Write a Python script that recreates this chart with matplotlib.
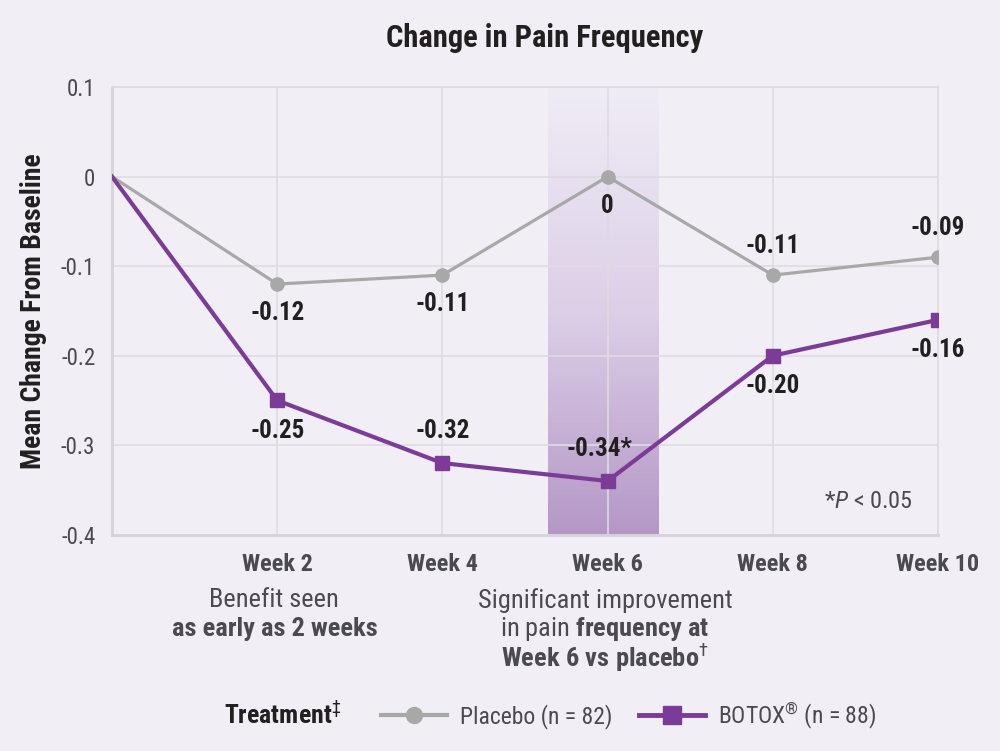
import matplotlib
matplotlib.use("Agg")
import matplotlib.pyplot as plt
import numpy as np
from matplotlib import font_manager as fm
from matplotlib.colors import LinearSegmentedColormap
from matplotlib.lines import Line2D

# data
weeks = [0, 2, 4, 6, 8, 10]
placebo = [0, -0.12, -0.11, 0, -0.11, -0.09]
botox = [0, -0.25, -0.32, -0.34, -0.20, -0.16]
placebo_labels = ["", "-0.12", "-0.11", "0", "-0.11", "-0.09"]
botox_labels = ["", "-0.25", "-0.32", "-0.34*", "-0.20", "-0.16"]
placebo_side = [0, -1, -1, -1, 1, 1]   # 1 = above, -1 = below
botox_side = [0, -1, 1, 1, -1, -1]
yticks = [0.1, 0, -0.1, -0.2, -0.3, -0.4]
ytick_labels = ["0.1", "0", "-0.1", "-0.2", "-0.3", "-0.4"]
xticks = [2, 4, 6, 8, 10]
xtick_labels = ["Week 2", "Week 4", "Week 6", "Week 8", "Week 10"]

# pick a narrow font if one is around
names = {f.name for f in fm.fontManager.ttflist}
font = "DejaVu Sans"
for cand in ["Roboto Condensed", "Liberation Sans Narrow", "Arial Narrow",
             "Open Sans Condensed", "Noto Sans Condensed", "Roboto", "Liberation Sans"]:
    if cand in names:
        font = cand
        break

plt.rcParams['font.family'] = [font, 'DejaVu Sans']
plt.rcParams['axes.unicode_minus'] = False
plt.rcParams['mathtext.fontset'] = 'custom'
plt.rcParams['mathtext.rm'] = font
plt.rcParams['mathtext.it'] = font + ':italic'
plt.rcParams['mathtext.bf'] = font + ':bold'

bg = "#F1EEF6"
grey = "#A8A8A8"
purple = "#7B3C98"
dark = "#231F20"
txt = "#4A4A4F"

fig = plt.figure(figsize=(10, 7.51), dpi=100, facecolor=bg)
ax = fig.add_axes([0.112, 0.288, 0.826, 0.596], facecolor=bg)

# shaded week-6 band with vertical gradient (light at top)
cmap = LinearSegmentedColormap.from_list("band", ["#F0ECF6", "#DCCFE7", "#B497C6"])
grad = np.linspace(0, 1, 256).reshape(-1, 1)
ax.imshow(grad, cmap=cmap, aspect='auto', extent=[5.28, 6.62, -0.4, 0.1],
          zorder=0.5, vmin=0, vmax=1)

ax.plot(weeks, placebo, color=grey, lw=2.3, zorder=3)
ax.plot(weeks[1:], placebo[1:], 'o', color=grey, ms=9.5, zorder=4)
ax.plot(weeks, botox, color=purple, lw=3.0, zorder=3)
ax.plot(weeks[1:], botox[1:], 's', color=purple, ms=9.5, zorder=4)

for x, y, lab, s in zip(weeks, placebo, placebo_labels, placebo_side):
    if lab:
        ax.annotate(lab, (x, y), xytext=(0, 21 * s), textcoords='offset points',
                    ha='center', va='center', fontsize=18, fontweight='bold', color=dark)
for x, y, lab, s in zip(weeks, botox, botox_labels, botox_side):
    if lab:
        off = 23 if s > 0 else 22
        dx = -6 if lab.endswith("*") else 0  # asterisk hangs to the right
        ax.annotate(lab, (x, y), xytext=(dx, off * s), textcoords='offset points',
                    ha='center', va='center', fontsize=18, fontweight='bold', color=dark)

ax.set_xlim(0, 10)
ax.set_ylim(-0.4, 0.1)
ax.set_xticks(xticks)
ax.set_xticklabels(xtick_labels, fontsize=17.5, fontweight='bold', color=txt)
ax.set_yticks(yticks)
ax.set_yticklabels(ytick_labels, fontsize=16.5, color=txt)
ax.tick_params(length=0, pad=12)
ax.tick_params(axis='x', pad=13)
ax.grid(True, color="#DEDBE2", lw=1.2, zorder=0)
ax.set_axisbelow(True)
for side in ['left', 'bottom']:
    ax.spines[side].set_color("#D6D3DA")
    ax.spines[side].set_linewidth(2)
for side in ['top', 'right']:
    ax.spines[side].set_color("#DEDBE2")
    ax.spines[side].set_linewidth(1.2)

fig.text(0.034, 0.585, "Mean Change From Baseline", rotation=90, ha='center',
         va='center', fontsize=20, fontweight='bold', color=dark)
fig.text(0.545, 0.949, "Change in Pain Frequency", ha='center', va='center',
         fontsize=22, fontweight='bold', color=dark)

ax.text(9.7, -0.363, r"*$\mathit{P}$ < 0.05", ha='right', va='center',
        fontsize=17.5, color=txt)

# notes under the axis
fig.text(0.274, 0.201, "Benefit seen", ha='center', va='center', fontsize=19, color=txt)
fig.text(0.275, 0.163, "as early as 2 weeks", ha='center', va='center',
         fontsize=19, fontweight='bold', color=txt)
fig.text(0.605, 0.201, "Significant improvement", ha='center', va='center',
         fontsize=19, color=txt)
fig.text(0.605, 0.163, r"in pain $\mathbf{frequency\ at}$", ha='center', va='center',
         fontsize=19, color=txt)
fig.text(0.605, 0.124, r"$\mathbf{Week\ 6\ vs\ placebo}^{\dagger}$", ha='center',
         va='center', fontsize=19, color=txt)

# legend
fig.text(0.283, 0.047, r"$\mathbf{Treatment}^{\ddagger}$", ha='center', va='center',
         fontsize=18.5, color=dark)
handles = [Line2D([], [], color=grey, lw=3, marker='o', ms=11.5),
           Line2D([], [], color=purple, lw=3.5, marker='s', ms=12.5)]
fig.legend(handles, ["Placebo (n = 82)", "BOTOX$^{\u00ae}$ (n = 88)"], loc='center left',
           bbox_to_anchor=(0.360, 0.047), ncol=2, frameon=False, fontsize=17,
           handlelength=2.8, columnspacing=1.1, handletextpad=0.55,
           labelcolor=txt)

fig.savefig("out.png", dpi=100, facecolor=bg)
